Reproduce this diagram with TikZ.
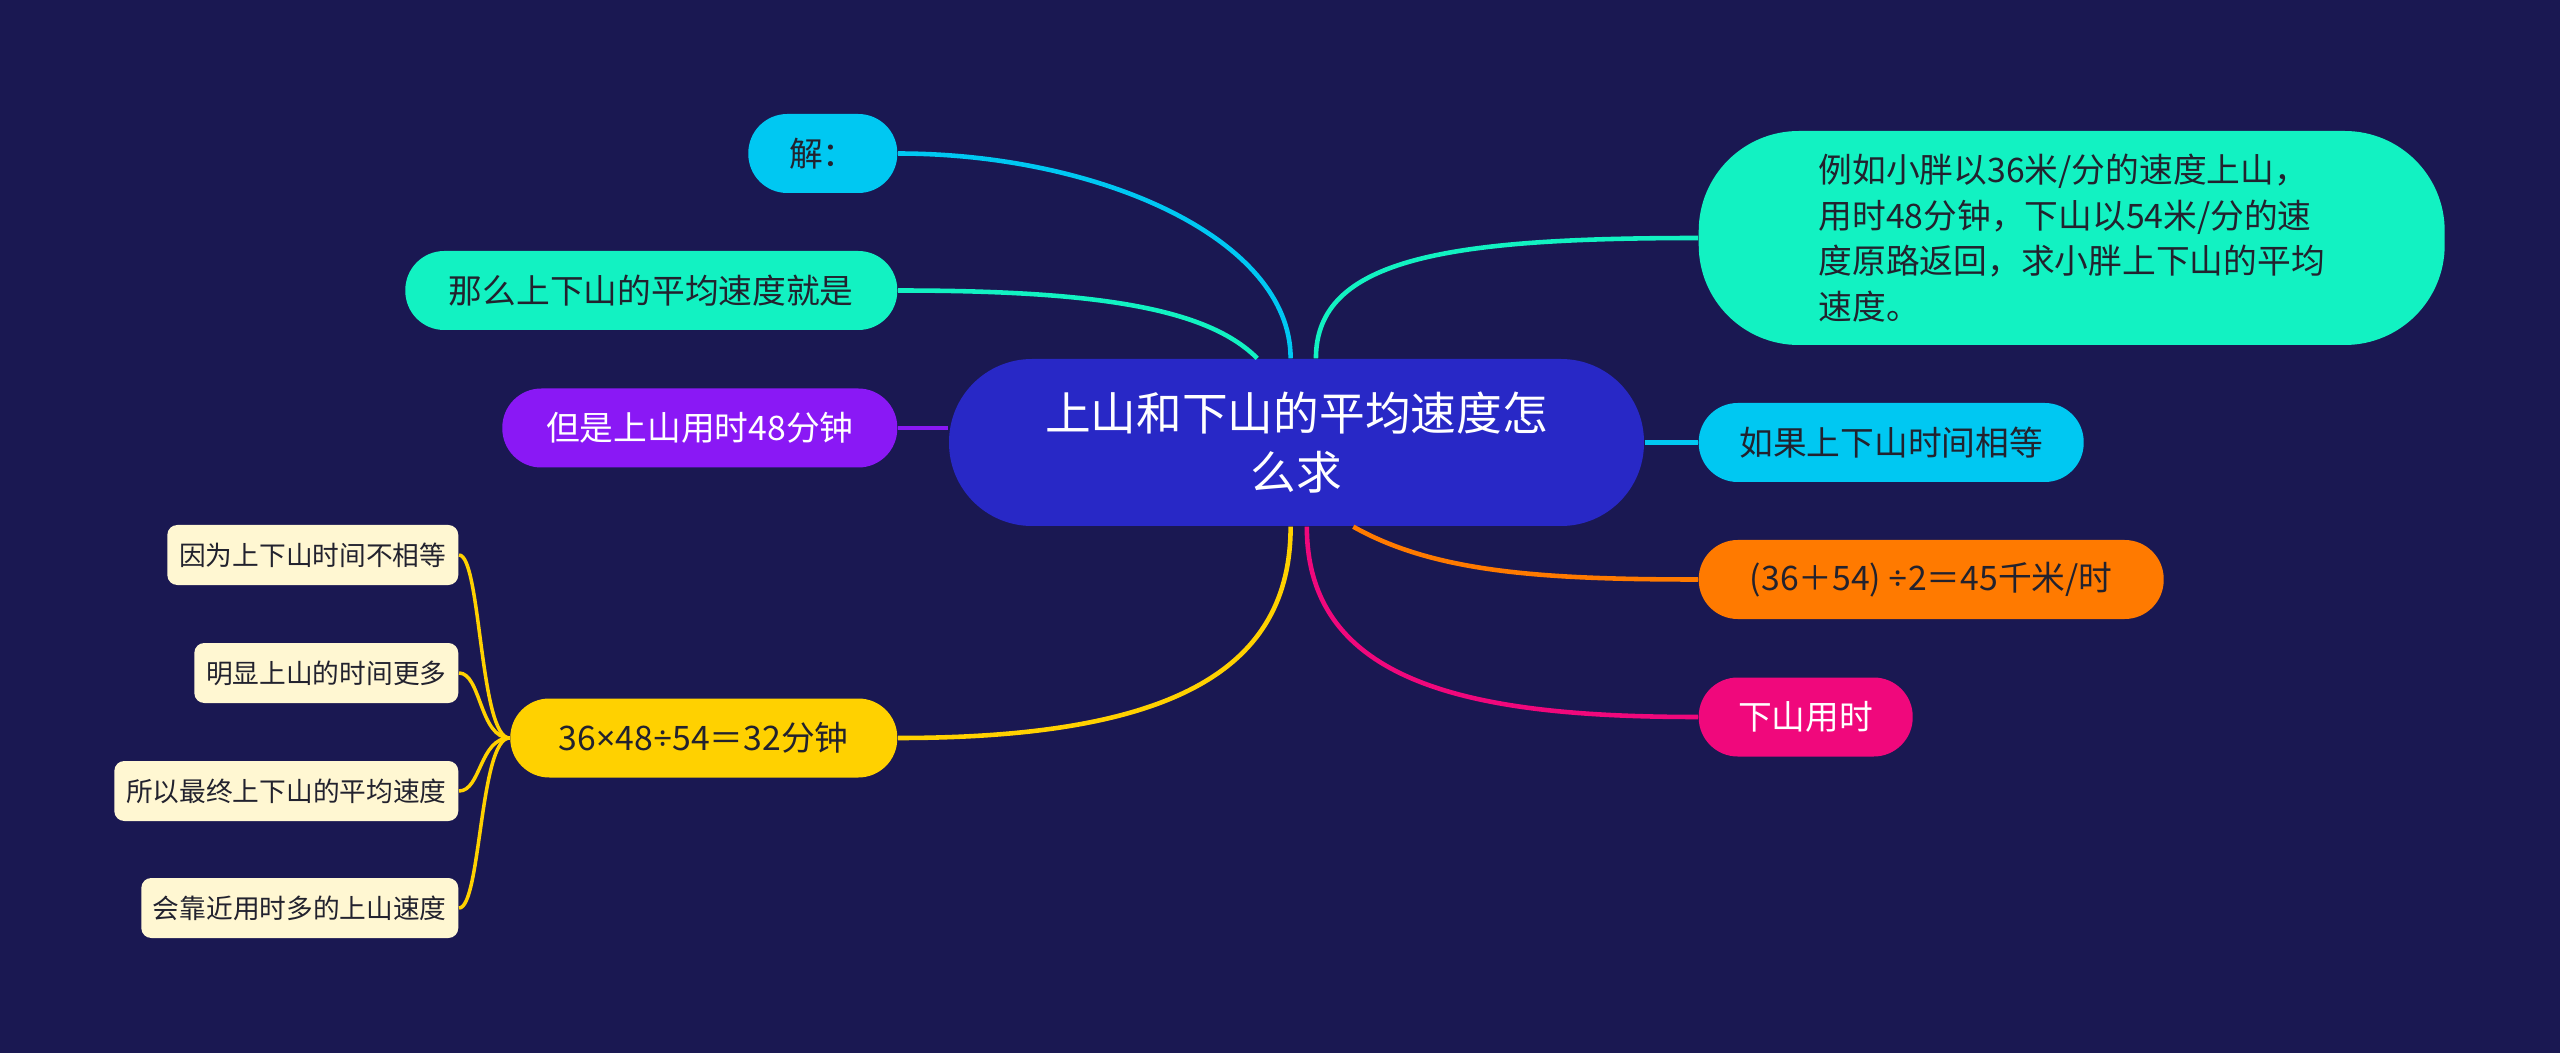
\documentclass[tikz,border=0pt]{standalone}
\usepackage{fontspec}
\setmainfont{Noto Sans CJK SC}
\newfontfamily\latinsans{Noto Sans}
\usetikzlibrary{positioning, calc}

\definecolor{bgnavy}{HTML}{1A1852}
\definecolor{rootblue}{HTML}{2828C6}
\definecolor{skycyan}{HTML}{00C8F2}
\definecolor{mintgreen}{HTML}{12F2C2}
\definecolor{violet}{HTML}{8A18F5}
\definecolor{sunyellow}{HTML}{FFD100}
\definecolor{tangerine}{HTML}{FF7A00}
\definecolor{hotpink}{HTML}{F0087C}
\definecolor{leafcream}{HTML}{FFF7D2}
\definecolor{inkdark}{HTML}{22222E}

\begin{document}
\begin{tikzpicture}[
    topic/.style={fill=rootblue, text=white, rounded corners=0.83cm, minimum width=6.95cm, minimum height=1.67cm, align=center, inner sep=0pt, font=\fontsize{13}{16.7}\selectfont},
    branch/.style={rounded corners=0.39cm, minimum height=0.79cm, inner sep=0pt, text=inkdark, font=\fontsize{9.6}{13}\selectfont},
    lbranch/.style={branch, anchor=east},
    rbranch/.style={branch, anchor=west},
    leaf/.style={fill=leafcream, rounded corners=0.1cm, minimum height=0.6cm, inner sep=0pt, anchor=east, text=inkdark, font=\fontsize{7.6}{9}\selectfont},
    link/.style={line width=1.3pt},
    twig/.style={line width=1pt, draw=sunyellow}
]

    % Background and page size
    \fill[bgnavy] (0,0) rectangle (25.6,10.53);
    \useasboundingbox (0,0) rectangle (25.6,10.53);

    % Central topic
    \node[topic] (root) at (12.965,6.105) {上山和下山的平均速度怎\\么求};

    % Left branches
    \node[lbranch, fill=skycyan, minimum width=1.49cm] (jie) at (8.98,8.995) {解：};
    \node[lbranch, fill=mintgreen, minimum width=4.92cm] (avg) at (8.98,7.625) {那么上下山的平均速度就是};
    \node[lbranch, fill=violet, text=white, minimum width=3.95cm] (upt) at (8.98,6.25) {但是上山用时48分钟};
    \node[lbranch, fill=sunyellow, minimum width=3.87cm] (dnt) at (8.98,3.15) {36{\latinsans ×}48{\latinsans ÷}54＝32分钟};

    % Leaves of the yellow branch
    \node[leaf, minimum width=2.91cm] (lf1) at (4.59,4.98) {因为上下山时间不相等};
    \node[leaf, minimum width=2.64cm] (lf2) at (4.59,3.80) {明显上山的时间更多};
    \node[leaf, minimum width=3.44cm] (lf3) at (4.59,2.62) {所以最终上下山的平均速度};
    \node[leaf, minimum width=3.17cm] (lf4) at (4.59,1.45) {会靠近用时多的上山速度};

    % Right branches
    \node[rbranch, fill=mintgreen, rounded corners=1cm, minimum width=7.46cm, minimum height=2.14cm, align=left] (ex) at (16.98,8.15)
        {例如小胖以36米/分的速度上山，\\用时48分钟，下山以54米/分的速\\度原路返回，求小胖上下山的平均\\速度。};
    \node[rbranch, fill=skycyan, minimum width=3.85cm] (same) at (16.98,6.105) {如果上下山时间相等};
    \node[rbranch, fill=tangerine, minimum width=4.65cm] (res) at (16.98,4.735) {(36＋54) {\latinsans ÷}2＝45千米/时};
    \node[rbranch, fill=hotpink, text=white, minimum width=2.14cm] (down) at (16.98,3.36) {下山用时};

    % Left connectors
    \draw[link, draw=skycyan] (jie.east) .. controls +(2.0,0) and +(0,1.2) .. (root.94);
    \draw[link, draw=mintgreen] (avg.east) .. controls +(2.0,0) and +(-0.5,0.5) .. (root.115);
    \draw[link, draw=violet] (upt.east) -- (upt.east -| root.west);
    \draw[link, draw=sunyellow] (dnt.east) .. controls +(2.8,0) and +(0,-1.4) .. (root.266);

    % Right connectors
    \draw[link, draw=mintgreen] (root.77) .. controls +(0,1.0) and +(-2.5,0) .. (ex.west);
    \draw[link, draw=skycyan] (root.east) -- (same.west);
    \draw[link, draw=tangerine] (root.304) .. controls +(0.8,-0.45) and +(-1.6,0) .. (res.west);
    \draw[link, draw=hotpink] (root.277) .. controls +(0,-1.6) and +(-2.2,0) .. (down.west);

    % Bracket to the leaves
    \foreach \lf in {lf1,lf2,lf3,lf4}
        \draw[twig] (dnt.west) .. controls +(-0.3,0) and +(0.22,0) .. (\lf.east);

\end{tikzpicture}
\end{document}
